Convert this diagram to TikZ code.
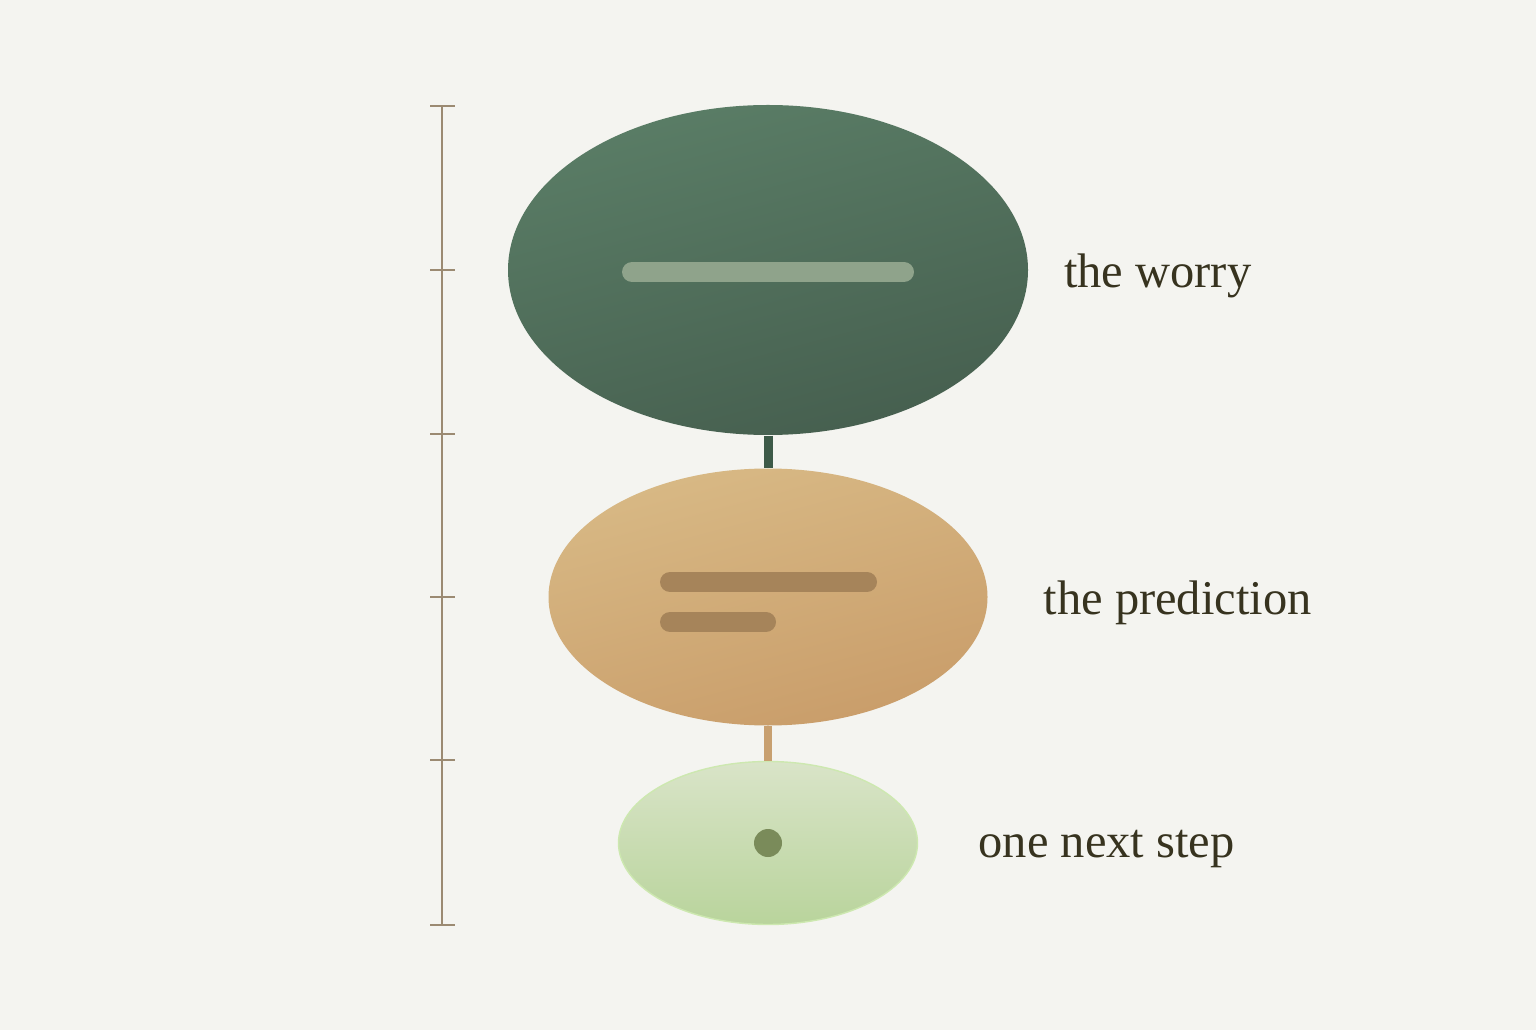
\documentclass[tikz,border=0pt]{standalone}
\usepackage{fontspec}
\setmainfont{Liberation Serif}
\usepackage{tikz}
\usetikzlibrary{shapes.geometric,positioning}

\definecolor{paper}{HTML}{F4F4F0}
\definecolor{ruler}{HTML}{9B8A72}
\definecolor{ink}{HTML}{37331F}
\definecolor{worrytop}{HTML}{5A7D66}
\definecolor{worrybot}{HTML}{465F4F}
\definecolor{worrybar}{HTML}{8FA38B}
\definecolor{worrystem}{HTML}{3D5A48}
\definecolor{predtop}{HTML}{D8B985}
\definecolor{predbot}{HTML}{C99D6A}
\definecolor{predbar}{HTML}{A6845A}
\definecolor{predstem}{HTML}{C8A070}
\definecolor{steptop}{HTML}{D9E4C8}
\definecolor{stepbot}{HTML}{B9D49C}
\definecolor{stepedge}{HTML}{CDE8B0}
\definecolor{stepdot}{HTML}{7A8B5A}

\tikzset{
  blob/.style={ellipse, inner sep=0pt},
  lbl/.style={text=ink, font=\fontsize{13.8}{16}\selectfont, yshift=-0.06cm},
  stem/.style={line width=0.09cm}
}

\begin{document}
\begin{tikzpicture}
      \fill [paper] (0,0) rectangle (15.36,10.30);
      \useasboundingbox (0,0) rectangle (15.36,10.30);
      \draw [ruler, line width=0.02cm] (4.42,9.24) -- (4.42,1.05);
      \foreach \y in {9.24,7.60,5.96,4.33,2.70,1.05}
        \draw [ruler, line width=0.02cm] (4.30,\y) -- (4.55,\y);
      \node [blob, minimum width=5.20cm, minimum height=3.30cm, top color=worrytop, bottom color=worrybot, shading angle=15] (worry) at (7.68,7.60) {};
      \node [blob, minimum width=4.39cm, minimum height=2.57cm, top color=predtop, bottom color=predbot, shading angle=15] (pred) at (7.68,4.33) {};
      \node [blob, minimum width=2.99cm, minimum height=1.63cm, top color=steptop, bottom color=stepbot, draw=stepedge, line width=0.4pt] (step1) at (7.68,1.87) {};
      \draw [stem, worrystem] (worry.south) -- (pred.north);
      \draw [stem, line width=0.08cm, predstem] (pred.south) -- (step1.north);
      \draw [worrybar, line width=0.20cm, line cap=round] (6.32,7.58) -- (9.04,7.58);
      \draw [predbar, line width=0.20cm, line cap=round] (6.70,4.48) -- (8.67,4.48);
      \draw [predbar, line width=0.20cm, line cap=round] (6.70,4.08) -- (7.66,4.08);
      \fill [stepdot] (step1.center) circle (0.14);
      \node [lbl, right=0.23 of worry] (worrytxt) {the worry};
      \node [lbl, right=0.43 of pred] (predtxt) {the prediction};
      \node [lbl, right=0.48 of step1] (steptxt) {one next step};
\end{tikzpicture}
\end{document}
